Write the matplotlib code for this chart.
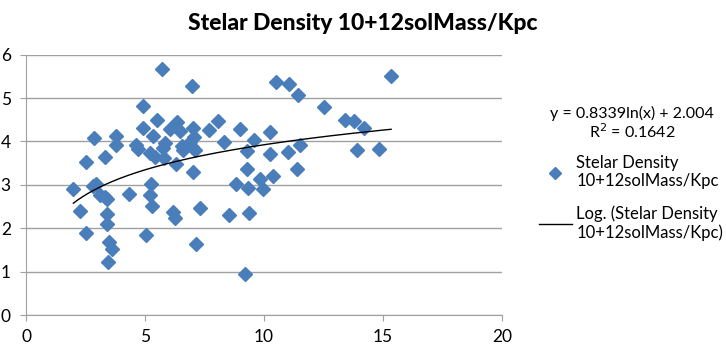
import numpy as np
import matplotlib
matplotlib.use("Agg")
import matplotlib.pyplot as plt
from matplotlib.lines import Line2D

plt.rcParams['font.family'] = ['Lato', 'DejaVu Sans']

title = "Stelar Density 10+12solMass/Kpc"
series_name = "Stelar Density\n10+12solMass/Kpc"
trend_name = "Log. (Stelar Density\n10+12solMass/Kpc)"

x_vals = [1.99, 2.25, 2.52, 2.52, 2.80, 2.93, 2.87, 3.09, 3.33, 3.42,
          3.42, 3.40, 3.50, 3.60, 3.46, 3.34, 3.80, 3.78, 4.33, 4.62,
          4.72, 4.92, 4.93, 5.04, 5.20, 5.24, 5.31, 5.21, 5.35, 5.49,
          5.42, 5.73, 5.80, 5.84, 5.77, 6.05, 6.16, 6.25, 6.33, 6.30,
          6.47, 6.54, 6.61, 6.89, 6.96, 7.10, 6.99, 7.03, 7.05, 7.01,
          7.14, 7.32, 7.68, 8.08, 8.32, 8.52, 8.82, 8.99, 9.20, 9.34,
          9.37, 9.30, 9.30, 9.56, 9.83, 9.97, 10.25, 10.24, 10.37, 10.52,
          11.07, 11.42, 11.02, 11.50, 11.37, 12.52, 13.40, 13.77, 14.20, 13.92,
          14.85, 15.34]
y_vals = [2.91, 2.40, 1.90, 3.53, 2.97, 3.03, 4.08, 2.76, 2.72, 2.68,
          2.32, 2.10, 1.69, 1.51, 1.23, 3.64, 4.13, 3.93, 2.80, 3.93,
          3.83, 4.82, 4.31, 1.84, 2.76, 3.01, 2.51, 3.73, 4.13, 4.49,
          3.65, 5.66, 3.62, 3.96, 3.84, 4.29, 2.37, 2.23, 4.46, 3.47,
          4.23, 3.90, 3.80, 3.99, 3.88, 3.80, 5.28, 4.30, 4.11, 3.29,
          1.63, 2.47, 4.26, 4.48, 3.99, 2.30, 3.02, 4.29, 0.94, 2.92,
          2.36, 3.36, 3.79, 4.04, 3.14, 2.91, 4.21, 3.70, 3.20, 5.36,
          5.33, 5.06, 3.75, 3.92, 3.37, 4.79, 4.49, 4.47, 4.30, 3.81,
          3.83, 5.50]

coef_a = 0.8339
coef_b = 2.004
r_squared = 0.1642

x_ticks = [0, 5, 10, 15, 20]
y_ticks = [0, 1, 2, 3, 4, 5, 6]

fig = plt.figure(figsize=(7.26, 3.45), dpi=100)
ax = fig.add_axes([26/726, 1-315/345, (502-26)/726, (315-54.7)/345])

blue = '#4A7EBB'
ax.plot(x_vals, y_vals, linestyle='none', marker='D', markersize=7.5,
        color=blue, markeredgecolor=blue, zorder=3)

xs = np.linspace(min(x_vals), max(x_vals), 200)
ax.plot(xs, coef_a*np.log(xs) + coef_b, color='black', lw=1.0, zorder=4)

ax.set_xlim(0, 20)
ax.set_ylim(0, 6)
ax.set_xticks(x_ticks)
ax.set_yticks(y_ticks)
ax.yaxis.grid(True, color='#A0A0A0', lw=1.0)
ax.set_axisbelow(True)
for s in ['top', 'right']:
    ax.spines[s].set_visible(False)
for s in ['left', 'bottom']:
    ax.spines[s].set_color('#A0A0A0')
ax.tick_params(axis='both', colors='#A0A0A0', labelcolor='black',
               labelsize=12.5, length=4)
ax.tick_params(axis='y', pad=7)
ax.tick_params(axis='x', pad=6)

fig.text(363/726, 1-23/345, title, ha='center', va='center',
         fontsize=16.5, fontweight='black')

fig.text(632/726, 1-113/345, "y = 0.8339ln(x) + 2.004", ha='center',
         va='center', fontsize=11.5)
fig.text(632/726, 1-132/345, "R$^2$ = 0.1642", ha='center',
         va='center', fontsize=11.5)

handles = [Line2D([], [], linestyle='none', marker='D', markersize=6,
                  color=blue),
           Line2D([], [], color='black', lw=1.0)]
leg = fig.legend(handles, [series_name, trend_name], loc='upper left',
                 bbox_to_anchor=(532/726, 1-148/345), frameon=False,
                 fontsize=12, handlelength=2.0, handletextpad=0.25,
                 labelspacing=0.95, borderaxespad=0)

fig.savefig('out.png', dpi=100)
